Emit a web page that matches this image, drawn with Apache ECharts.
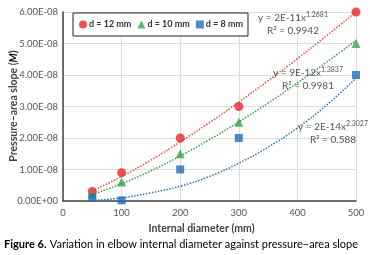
<!DOCTYPE html>
<html>
<head>
<meta charset="utf-8">
<script src="https://cdn.jsdelivr.net/npm/echarts@6/dist/echarts.min.js"></script>
<style>
  html, body { margin: 0; padding: 0; background: #fff; }
  #chart { width: 370px; height: 255px; }
</style>
</head>
<body>
<div id="chart"></div>
<script>
// measured points (internal diameter in mm, slope M)
var diameters = [50, 100, 200, 300, 500];
var d12 = [3e-9, 9e-9, 2.0e-8, 3.0e-8, 6.0e-8];
var d10 = [2.2e-9, 6e-9, 1.5e-8, 2.5e-8, 5.0e-8];
var d8 = [1.0e-9, 0.2e-9, 1.0e-8, 2.0e-8, 4.0e-8];

// power trend lines
var trendX = [50, 100, 150, 200, 250, 300, 350, 400, 450, 500];
var trend12 = [0.32e-8, 0.78e-8, 1.30e-8, 1.88e-8, 2.49e-8, 3.14e-8, 3.82e-8, 4.52e-8, 5.25e-8, 6.0e-8];
var trend10 = [0.21e-8, 0.55e-8, 0.96e-8, 1.43e-8, 1.95e-8, 2.51e-8, 3.11e-8, 3.75e-8, 4.41e-8, 5.1e-8];
var trend8 = [0.02e-8, 0.10e-8, 0.26e-8, 0.47e-8, 0.78e-8, 1.2e-8, 1.71e-8, 2.32e-8, 3.05e-8, 3.9e-8];

var xTicks = [0, 100, 200, 300, 400, 500];
var yTicks = [0, 1e-8, 2e-8, 3e-8, 4e-8, 5e-8, 6e-8];

var FONT = "Lato, 'Open Sans', sans-serif";

function pairs(xs, ys) {
  return xs.map(function (x, i) { return [x, ys[i]]; });
}

function sci(v) {
  if (v === 0) return '0.00E+00';
  var e = Math.floor(Math.log10(Math.abs(v)) + 1e-9);
  var m = v / Math.pow(10, e);
  var es = Math.abs(e) < 10 ? '0' + Math.abs(e) : '' + Math.abs(e);
  return m.toFixed(2) + 'E' + (e < 0 ? '-' : '+') + es;
}

// trend line equation label, x = centre, y = top
function eqText(x, y, base, sup, r2) {
  return {
    type: 'text', x: x, y: y, z: 10,
    style: {
      text: '{a|' + base + '}{s|' + sup + '}\n{b|R² = ' + r2 + '}',
      fill: '#555',
      align: 'center',
      verticalAlign: 'top',
      rich: {
        a: { fontSize: 10, fontFamily: FONT, color: '#505050', lineHeight: 13 },
        s: { fontSize: 7, fontFamily: FONT, color: '#505050', verticalAlign: 'top', lineHeight: 13, padding: [0, 0, 4, 0] },
        b: { fontSize: 10, fontFamily: FONT, color: '#505050', lineHeight: 13 }
      }
    }
  };
}

var chart = echarts.init(document.getElementById('chart'));
var option = {
  animation: false,
  textStyle: { fontFamily: FONT },
  grid: { left: 63, right: 14, top: 12, bottom: 54, outerBoundsMode: 'none', containLabel: false },
  legend: {
    data: ['d = 12 mm', 'd = 10 mm', 'd = 8 mm'],
    left: 73, top: 13,
    padding: [7, 5, 7, 6],
    itemGap: 6,
    itemWidth: 8, itemHeight: 8,
    backgroundColor: '#fff',
    borderColor: '#222', borderWidth: 1,
    textStyle: { fontSize: 9, fontWeight: 'bold', color: '#333', fontFamily: FONT, padding: [0, 0, 0, -3] }
  },
  xAxis: {
    type: 'value', min: 0, max: 500, interval: 100,
    name: 'Internal diameter (mm)',
    nameLocation: 'middle', nameGap: 21,
    nameTextStyle: { fontSize: 10.5, fontWeight: 'bold', color: '#444', fontFamily: FONT, padding: [0, 16, 0, 0] },
    axisLine: { lineStyle: { color: '#444', width: 1.5 } },
    axisTick: { show: false },
    axisLabel: { fontSize: 9.5, color: '#555', margin: 7 },
    splitLine: { lineStyle: { color: '#dcdcdc' } }
  },
  yAxis: {
    type: 'value', min: 0, max: 6e-8, interval: 1e-8,
    axisLine: { show: true, lineStyle: { color: '#444', width: 1.5 } },
    axisTick: { show: false },
    axisLabel: { fontSize: 9.5, color: '#555', margin: 5, formatter: sci },
    splitLine: { lineStyle: { color: '#dcdcdc' } }
  },
  series: [
    {
      name: 'trend12', type: 'line', smooth: true, showSymbol: false, silent: true,
      data: pairs(trendX, trend12),
      lineStyle: { color: '#e4503f', width: 1.5, type: [1.5, 1.5] }, z: 2
    },
    {
      name: 'trend10', type: 'line', smooth: true, showSymbol: false, silent: true,
      data: pairs(trendX, trend10),
      lineStyle: { color: '#3c9e49', width: 1.5, type: [1.5, 1.5] }, z: 2
    },
    {
      name: 'trend8', type: 'line', smooth: true, showSymbol: false, silent: true,
      data: pairs(trendX, trend8),
      lineStyle: { color: '#2f6db3', width: 1.5, type: [1.5, 1.5] }, z: 2
    },
    {
      name: 'd = 12 mm', type: 'scatter', symbol: 'circle', symbolSize: 9,
      data: pairs(diameters, d12), itemStyle: { color: '#e8262b' }, z: 3
    },
    {
      name: 'd = 10 mm', type: 'scatter', symbol: 'triangle', symbolSize: 9,
      data: pairs(diameters, d10), itemStyle: { color: '#35a245' }, z: 3
    },
    {
      name: 'd = 8 mm', type: 'scatter', symbol: 'rect', symbolSize: 8,
      data: pairs(diameters, d8), itemStyle: { color: '#1f6cb8' }, z: 3
    }
  ],
  graphic: [
    eqText(293, 11, 'y = 2E-11x', '1.2681', '0.9942'),
    eqText(308, 66, 'y = 9E-12x', '1.3837', '0.9981'),
    eqText(333, 120, 'y = 2E-14x', '2.3027', '0.588'),
    {
      // y axis title, rotated
      type: 'text', x: 14, y: 106, rotation: Math.PI / 2,
      style: {
        text: '{n|Pressure–area slope (}{i|M}{n|)}',
        align: 'center', verticalAlign: 'middle',
        rich: {
          n: { fontSize: 10.5, fontWeight: 'bold', fill: '#444', color: '#444', fontFamily: FONT },
          i: { fontSize: 10.5, fontWeight: 'bold', fontStyle: 'italic', color: '#444', fontFamily: FONT }
        }
      }
    },
    {
      type: 'text', left: 4, top: 238,
      style: {
        text: '{b|Figure 6.} {n|Variation in elbow internal diameter against pressure–area slope}',
        rich: {
          b: { fontSize: 11, fontWeight: 'bold', color: '#222', fontFamily: FONT },
          n: { fontSize: 11, color: '#222', fontFamily: FONT }
        }
      }
    }
  ]
};
chart.setOption(option);
</script>
</body>
</html>
